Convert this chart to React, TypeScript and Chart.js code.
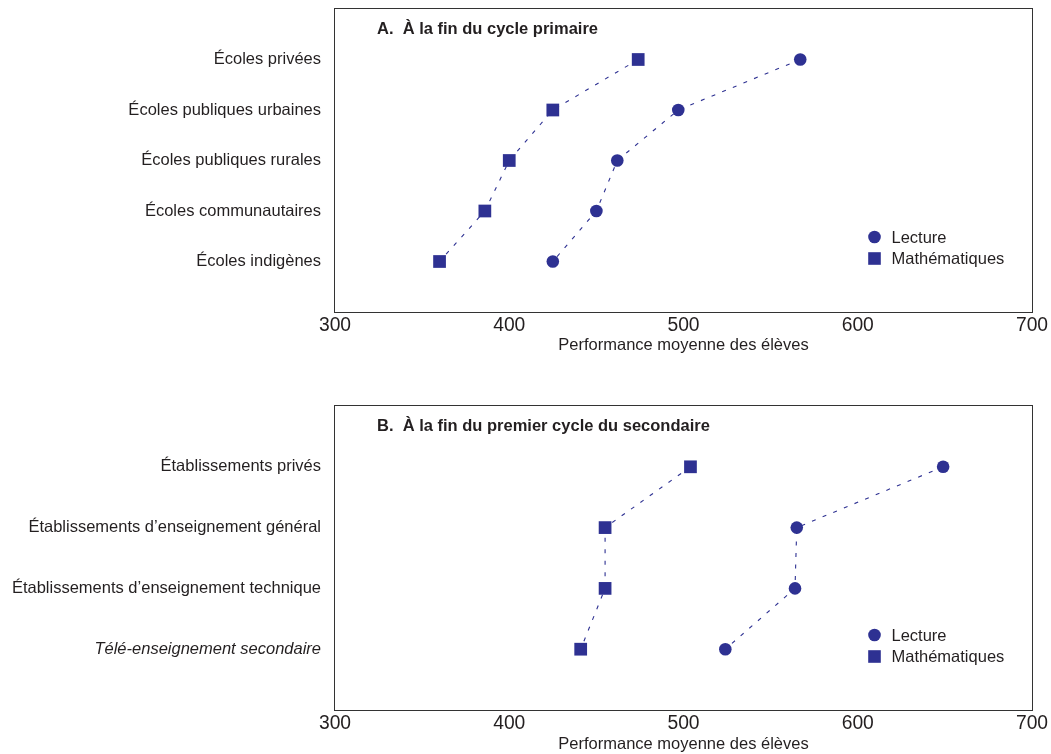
import React, { useEffect, useRef } from "react";
import { Chart, registerables } from "chart.js";

Chart.register(...registerables);

// ---------- Data ----------
const categoriesA = [
  "Écoles privées",
  "Écoles publiques urbaines",
  "Écoles publiques rurales",
  "Écoles communautaires",
  "Écoles indigènes",
];
const lectureA = [567, 497, 462, 450, 425];
const mathA = [474, 425, 400, 386, 360];

const categoriesB = [
  "Établissements privés",
  "Établissements d’enseignement général",
  "Établissements d’enseignement technique",
  "Télé-enseignement secondaire",
];
const lectureB = [649, 565, 564, 524];
const mathB = [504, 455, 455, 441];
const italicCategoriesB = ["Télé-enseignement secondaire"];

const titleA = "A.  À la fin du cycle primaire";
const titleB = "B.  À la fin du premier cycle du secondaire";
const seriesNames = ["Lecture", "Mathématiques"];
const xTickValues = [300, 400, 500, 600, 700];
const xTitle = "Performance moyenne des élèves";

// ---------- Styles ----------
const FAMILY = '"Liberation Sans", Arial, Helvetica, sans-serif';
const BLUE = "#2E3192";
const TEXT = "#231F20";
const FRAME = "#333333";

Chart.defaults.font.family = FAMILY;

type PanelProps = {
  categories: string[];
  lecture: number[];
  math: number[];
  italic: string[];
  title: string;
  padTop: number;
  axisHeight: number;
  titlePadBottom: number;
};

function Panel(props: PanelProps) {
  const ref = useRef<HTMLCanvasElement | null>(null);

  useEffect(() => {
    const { categories, lecture, math, italic, title, padTop, axisHeight, titlePadBottom } = props;
    const n = categories.length;
    const toPoints = (vals: number[]) => vals.map((v, i) => ({ x: v, y: n - i }));

    const decor = {
      id: "decor",
      afterDraw(chart: any) {
        const { ctx, chartArea } = chart;
        const { left, top, right, bottom } = chartArea;
        ctx.save();
        // frame
        ctx.strokeStyle = FRAME;
        ctx.lineWidth = 1;
        ctx.strokeRect(Math.round(left) - 0.5, Math.round(top) - 0.5, Math.round(right - left) + 1, Math.round(bottom - top) + 1);
        // panel title
        ctx.fillStyle = TEXT;
        ctx.font = `bold 16.5px ${FAMILY}`;
        ctx.textBaseline = "middle";
        ctx.textAlign = "left";
        ctx.fillText(title, left + 42, top + 20);
        // legend
        ctx.font = `16.5px ${FAMILY}`;
        chart.data.datasets.forEach((ds: any, i: number) => {
          const cx = right - 157.5;
          const cy = bottom - 75 + i * 21.5;
          ctx.fillStyle = BLUE;
          if (ds.pointStyle === "rect") {
            ctx.fillRect(cx - 6.3, cy - 6.3, 12.6, 12.6);
          } else {
            ctx.beginPath();
            ctx.arc(cx, cy, 6.3, 0, Math.PI * 2);
            ctx.fill();
          }
          ctx.fillStyle = TEXT;
          ctx.fillText(ds.label, cx + 17, cy + 1);
        });
        ctx.restore();
      },
    };

    const chart = new Chart(ref.current as HTMLCanvasElement, {
      type: "scatter",
      data: {
        datasets: [
          {
            label: seriesNames[0],
            data: toPoints(lecture),
            showLine: true,
            borderColor: BLUE,
            borderWidth: 1.1,
            borderDash: [4, 7.5],
            tension: 0,
            pointStyle: "circle",
            pointRadius: 6.3,
            pointBorderWidth: 0,
            pointBackgroundColor: BLUE,
            pointBorderColor: BLUE,
          },
          {
            label: seriesNames[1],
            data: toPoints(math),
            showLine: true,
            borderColor: BLUE,
            borderWidth: 1.1,
            borderDash: [4, 7.5],
            tension: 0,
            pointStyle: "rect",
            pointRadius: 9,
            pointBorderWidth: 0,
            pointBackgroundColor: BLUE,
            pointBorderColor: BLUE,
          },
        ],
      },
      options: {
        responsive: false,
        animation: false,
        events: [],
        layout: { padding: { top: padTop, left: 0, right: 19, bottom: 0 } },
        plugins: {
          legend: { display: false },
          tooltip: { enabled: false },
        },
        scales: {
          x: {
            type: "linear",
            min: 300,
            max: 700,
            grid: { display: false, drawTicks: false },
            border: { display: false },
            afterBuildTicks: (s: any) => {
              s.ticks = xTickValues.map((v) => ({ value: v }));
            },
            ticks: {
              padding: 2.5,
              color: TEXT,
              font: { size: 19.3, family: FAMILY },
              maxRotation: 0,
              autoSkip: false,
            },
            title: {
              display: true,
              text: xTitle,
              color: TEXT,
              font: { size: 16.5, family: FAMILY },
              padding: { top: 0, bottom: titlePadBottom },
            },
            afterFit: (s: any) => {
              s.height = axisHeight;
              s.paddingLeft = 0;
              s.paddingRight = 0;
            },
          },
          y: {
            type: "linear",
            min: 0,
            max: n + 1,
            grid: { display: false, drawTicks: false },
            border: { display: false },
            afterBuildTicks: (s: any) => {
              s.ticks = categories.map((_, i) => ({ value: n - i }));
            },
            ticks: {
              padding: 14,
              color: TEXT,
              autoSkip: false,
              font: (ctx: any) => {
                const v = ctx && ctx.tick ? ctx.tick.value : undefined;
                const label = v !== undefined ? categories[n - v] : "";
                return {
                  family: FAMILY,
                  size: 16.5,
                  style: italic.includes(label) ? "italic" : "normal",
                };
              },
              callback: (v: any) => categories[n - Number(v)] ?? "",
            },
            afterFit: (s: any) => {
              s.width = 335;
              s.paddingTop = 0;
              s.paddingBottom = 0;
            },
          },
        },
      } as any,
      plugins: [decor],
    });

    return () => chart.destroy();
  }, []);

  return <canvas ref={ref} width={1051} height={377} style={{ display: "block" }} />;
}

export default function App() {
  return (
    <div style={{ position: "absolute", left: 0, top: 0, width: 1051, height: 754, background: "#ffffff" }}>
      <Panel
        categories={categoriesA}
        lecture={lectureA}
        math={mathA}
        italic={[]}
        title={titleA}
        padTop={8}
        axisHeight={65}
        titlePadBottom={22}
      />
      <Panel
        categories={categoriesB}
        lecture={lectureB}
        math={mathB}
        italic={italicCategoriesB}
        title={titleB}
        padTop={29}
        axisHeight={44}
        titlePadBottom={0}
      />
    </div>
  );
}
